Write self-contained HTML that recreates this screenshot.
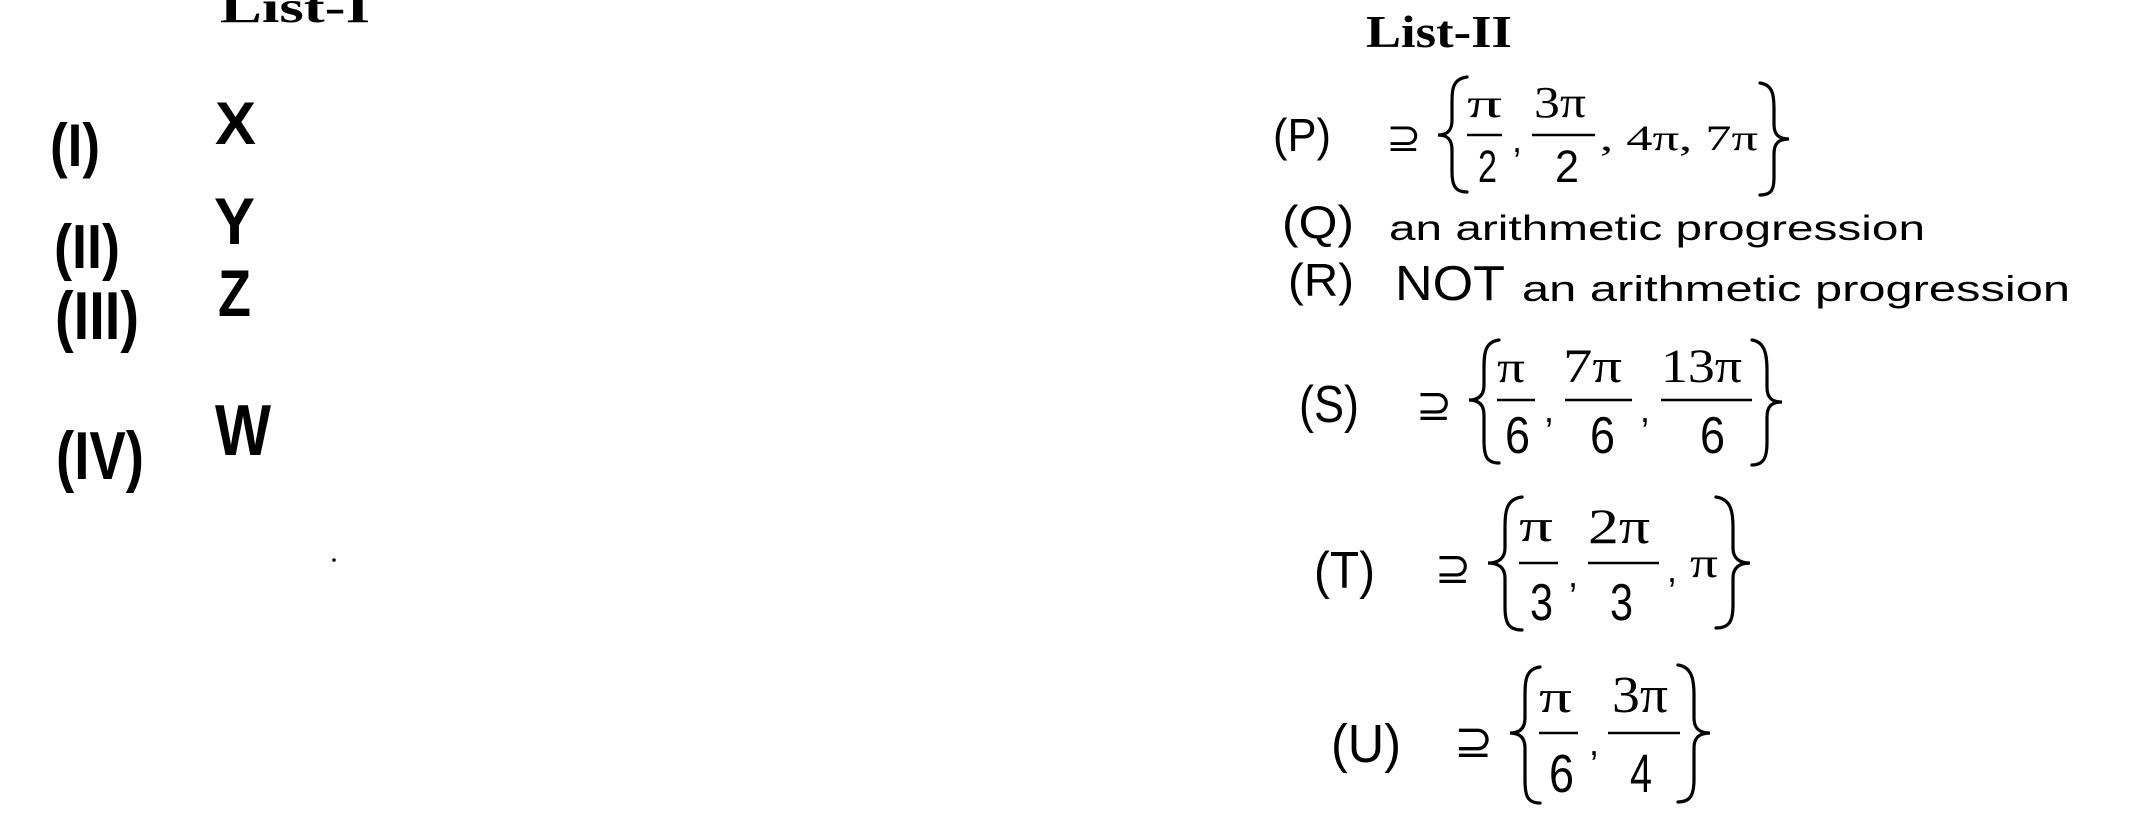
<!DOCTYPE html>
<html><head><meta charset="utf-8"><style>
html,body{margin:0;padding:0;background:#fff;}
svg{display:block;}
text{fill:#000;}
.s{font-family:"Liberation Sans",sans-serif;}
.sb{font-family:"Liberation Sans",sans-serif;font-weight:bold;}
.sr{font-family:"Liberation Serif",serif;}
.srb{font-family:"Liberation Serif",serif;font-weight:bold;}
.m{font-family:"DejaVu Sans",sans-serif;}
</style></head><body>
<svg width="2154" height="814" viewBox="0 0 2154 814" xmlns="http://www.w3.org/2000/svg">
<g fill="none" stroke="#000" stroke-width="3.2" stroke-linecap="round">
<!-- P braces -->
<path d="M1467 77 C1452 79 1452 90 1452 105 L1452 120 C1452 130 1448 135 1438 135 C1448 135 1452 140 1452 150 L1452 172 C1452 185 1455 192 1467 192"/>
<path d="M1760 83 C1773 85 1774 95 1774 110 L1774 124 C1774 134 1778 139 1789 139 C1778 139 1774 144 1774 154 L1774 178 C1774 190 1771 195 1760 195"/>
<!-- S -->
<path d="M1499 340 C1484 342 1484 355 1484 370 L1484 385 C1484 395 1479 400 1469 400 C1479 400 1484 405 1484 415 L1484 440 C1484 455 1486 463 1499 463"/>
<path d="M1752 340 C1765 342 1767 355 1767 370 L1767 387 C1767 397 1771 402 1782 402 C1771 402 1767 407 1767 417 L1767 442 C1767 457 1764 465 1752 465"/>
<!-- T -->
<path d="M1522 497 C1506 499 1505 512 1505 527 L1505 548 C1505 558 1499 563 1488 563 C1499 563 1505 568 1505 578 L1505 607 C1505 622 1508 630 1522 630"/>
<path d="M1716 497 C1731 499 1733 512 1733 527 L1733 548 C1733 558 1739 563 1750 563 C1739 563 1733 568 1733 578 L1733 605 C1733 620 1730 628 1716 628"/>
<!-- U -->
<path d="M1540 667 C1525 669 1525 682 1525 697 L1525 718 C1525 728 1520 733 1510 733 C1520 733 1525 738 1525 748 L1525 780 C1525 795 1527 803 1540 803"/>
<path d="M1678 665 C1692 667 1694 680 1694 695 L1694 718 C1694 728 1699 733 1710 733 C1699 733 1694 738 1694 748 L1694 779 C1694 794 1691 802 1678 802"/>
</g>
<g stroke="#000" stroke-width="2.5">
<line x1="1467" y1="135" x2="1502" y2="135"/>
<line x1="1532" y1="135" x2="1595" y2="135"/>
<line x1="1497" y1="400" x2="1535" y2="400"/>
<line x1="1565" y1="400" x2="1632" y2="400"/>
<line x1="1661" y1="400" x2="1752" y2="400"/>
<line x1="1519" y1="563" x2="1558" y2="563"/>
<line x1="1588" y1="563" x2="1659" y2="563"/>
<line x1="1539" y1="733" x2="1578" y2="733"/>
<line x1="1608" y1="733" x2="1680" y2="733"/>
</g>
<circle cx="334" cy="560" r="1.8" fill="#000"/>

<!-- List I -->
<text class="srb" x="220" y="22" font-size="44" textLength="150" lengthAdjust="spacingAndGlyphs">List-I</text>
<text class="sb" x="50" y="166" font-size="60" textLength="50" lengthAdjust="spacingAndGlyphs">(I)</text>
<text class="sb" x="54" y="268" font-size="62" textLength="66" lengthAdjust="spacingAndGlyphs">(II)</text>
<text class="sb" x="55" y="339" font-size="68" textLength="84" lengthAdjust="spacingAndGlyphs">(III)</text>
<text class="sb" x="56" y="479" font-size="68" textLength="88" lengthAdjust="spacingAndGlyphs">(IV)</text>
<text class="s" x="215" y="144" font-size="60" textLength="41" lengthAdjust="spacingAndGlyphs" style="font-weight:bold">X</text>
<text class="s" x="214" y="244" font-size="66" textLength="41" lengthAdjust="spacingAndGlyphs" style="font-weight:bold">Y</text>
<text class="s" x="218" y="316" font-size="66" textLength="33" lengthAdjust="spacingAndGlyphs" style="font-weight:bold">Z</text>
<text class="s" x="215" y="455" font-size="72" textLength="56" lengthAdjust="spacingAndGlyphs" style="font-weight:bold">W</text>

<!-- List II -->
<text class="srb" x="1366" y="47" font-size="46" textLength="146" lengthAdjust="spacingAndGlyphs">List-II</text>

<text class="s" x="1273" y="151" font-size="46" textLength="58" lengthAdjust="spacingAndGlyphs">(P)</text>
<text class="m" x="1386" y="151" font-size="40" textLength="35" lengthAdjust="spacingAndGlyphs">⊇</text>
<text class="sr" x="1467" y="117" font-size="40" textLength="35" lengthAdjust="spacingAndGlyphs">π</text>
<text class="s" x="1478" y="182" font-size="45" textLength="19" lengthAdjust="spacingAndGlyphs">2</text>
<text class="s" x="1512" y="152" font-size="36">,</text>
<text class="sr" x="1534" y="117" font-size="44" textLength="52" lengthAdjust="spacingAndGlyphs">3π</text>
<text class="s" x="1555" y="182" font-size="45" textLength="24" lengthAdjust="spacingAndGlyphs">2</text>
<text class="sr" x="1600" y="150" font-size="36" textLength="158" lengthAdjust="spacingAndGlyphs">, 4π, 7π</text>

<text class="s" x="1282" y="238" font-size="46" textLength="72" lengthAdjust="spacingAndGlyphs">(Q)</text>
<text class="s" x="1389" y="240" font-size="35" textLength="536" lengthAdjust="spacingAndGlyphs">an arithmetic progression</text>

<text class="s" x="1288" y="296" font-size="46" textLength="66" lengthAdjust="spacingAndGlyphs">(R)</text>
<text class="s" x="1395" y="300" font-size="49" textLength="110" lengthAdjust="spacingAndGlyphs">NOT</text>
<text class="s" x="1522" y="301" font-size="36" textLength="548" lengthAdjust="spacingAndGlyphs">an arithmetic progression</text>

<text class="s" x="1299" y="422" font-size="52" textLength="60" lengthAdjust="spacingAndGlyphs">(S)</text>
<text class="m" x="1416" y="420" font-size="44" textLength="36" lengthAdjust="spacingAndGlyphs">⊇</text>
<text class="sr" x="1497" y="382" font-size="44" textLength="28" lengthAdjust="spacingAndGlyphs">π</text>
<text class="s" x="1505" y="453" font-size="52" textLength="25" lengthAdjust="spacingAndGlyphs">6</text>
<text class="s" x="1544" y="422" font-size="36">,</text>
<text class="sr" x="1563" y="382" font-size="48" textLength="59" lengthAdjust="spacingAndGlyphs">7π</text>
<text class="s" x="1590" y="453" font-size="52" textLength="25" lengthAdjust="spacingAndGlyphs">6</text>
<text class="s" x="1640" y="422" font-size="36">,</text>
<text class="sr" x="1661" y="382" font-size="48" textLength="81" lengthAdjust="spacingAndGlyphs">13π</text>
<text class="s" x="1700" y="453" font-size="52" textLength="25" lengthAdjust="spacingAndGlyphs">6</text>

<text class="s" x="1314" y="588" font-size="52" textLength="61" lengthAdjust="spacingAndGlyphs">(T)</text>
<text class="m" x="1435" y="583" font-size="44" textLength="36" lengthAdjust="spacingAndGlyphs">⊇</text>
<text class="sr" x="1519" y="541" font-size="46" textLength="34" lengthAdjust="spacingAndGlyphs">π</text>
<text class="s" x="1530" y="620" font-size="52" textLength="23" lengthAdjust="spacingAndGlyphs">3</text>
<text class="s" x="1568" y="587" font-size="36">,</text>
<text class="sr" x="1588" y="543" font-size="50" textLength="62" lengthAdjust="spacingAndGlyphs">2π</text>
<text class="s" x="1610" y="620" font-size="52" textLength="23" lengthAdjust="spacingAndGlyphs">3</text>
<text class="s" x="1667" y="582" font-size="36">,</text>
<text class="sr" x="1690" y="577" font-size="42" textLength="28" lengthAdjust="spacingAndGlyphs">π</text>

<text class="s" x="1331" y="762" font-size="54" textLength="70" lengthAdjust="spacingAndGlyphs">(U)</text>
<text class="m" x="1454" y="757" font-size="46" textLength="39" lengthAdjust="spacingAndGlyphs">⊇</text>
<text class="sr" x="1539" y="712" font-size="46" textLength="33" lengthAdjust="spacingAndGlyphs">π</text>
<text class="s" x="1549" y="792" font-size="54" textLength="25" lengthAdjust="spacingAndGlyphs">6</text>
<text class="s" x="1589" y="755" font-size="36">,</text>
<text class="sr" x="1612" y="712" font-size="52" textLength="56" lengthAdjust="spacingAndGlyphs">3π</text>
<text class="s" x="1630" y="792" font-size="54" textLength="22" lengthAdjust="spacingAndGlyphs">4</text>
</svg>
</body></html>
